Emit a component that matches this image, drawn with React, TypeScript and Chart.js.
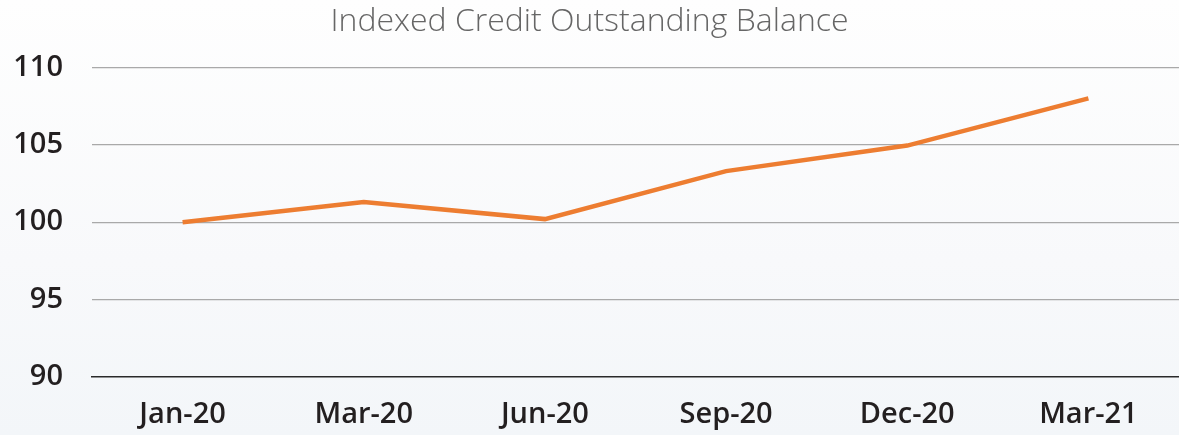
import React, { useEffect, useRef } from "react";
import { Chart, registerables } from "chart.js";

Chart.register(...registerables);

const categories = ["Jan-20", "Mar-20", "Jun-20", "Sep-20", "Dec-20", "Mar-21"];
const balanceIndex = [100.0, 101.3, 100.2, 103.3, 104.95, 108.0];
const yTicks = [90, 95, 100, 105, 110];
const chartTitle = "Indexed Credit Outstanding Balance";

export default function App() {
  const ref = useRef<HTMLCanvasElement | null>(null);

  useEffect(() => {
    document.body.style.margin = "0";
    if (!ref.current) return;
    const chart = new Chart(ref.current, {
      type: "line",
      data: {
        labels: categories,
        datasets: [
          {
            label: "Index",
            data: balanceIndex,
            borderColor: "#ED7D31",
            backgroundColor: "#ED7D31",
            borderWidth: 4.5,
            pointRadius: 0,
            tension: 0,
          },
        ],
      },
      options: {
        animation: false,
        responsive: false,
        maintainAspectRatio: false,
        layout: { padding: { top: 0, right: 0, bottom: 0, left: 0 } },
        plugins: {
          legend: { display: false },
          tooltip: { enabled: false },
          title: {
            display: true,
            text: chartTitle,
            color: "#666666",
            font: { family: "Open Sans", size: 32, weight: "300", lineHeight: 1.2 },
            padding: { top: 3, bottom: 26 },
          },
        },
        scales: {
          x: {
            offset: true,
            grid: { display: false, drawTicks: false },
            border: { display: true, color: "#2a2a2a", width: 1.5 },
            ticks: {
              color: "#231f20",
              font: { family: "Open Sans", size: 29, weight: "600" },
              padding: 20,
              maxRotation: 0,
              autoSkip: false,
            },
            afterFit: (scale: any) => {
              scale.height = 58;
            },
          },
          y: {
            min: 90,
            max: 110,
            afterBuildTicks: (scale: any) => {
              scale.ticks = yTicks.map((v) => ({ value: v }));
            },
            grid: {
              drawTicks: false,
              color: (ctx: any) => (ctx.tick && ctx.tick.value === 90 ? "rgba(0,0,0,0)" : "#a9a9a9"),
              lineWidth: 1.2,
            },
            border: { display: false },
            ticks: {
              color: "#231f20",
              font: { family: "Open Sans", size: 29, weight: "600" },
              padding: 29,
            },
            afterFit: (scale: any) => {
              scale.width = 92;
            },
          },
        },
      },
    });
    return () => chart.destroy();
  }, []);

  return (
    <div
      style={{
        position: "absolute",
        left: 0,
        top: 0,
        width: 1179,
        height: 435,
        background: "linear-gradient(180deg, #fefefe 0%, #f8f9fb 60%, #f3f6f9 100%)",
      }}
    >
      <canvas ref={ref} width={1179} height={435} style={{ display: "block" }} />
    </div>
  );
}
